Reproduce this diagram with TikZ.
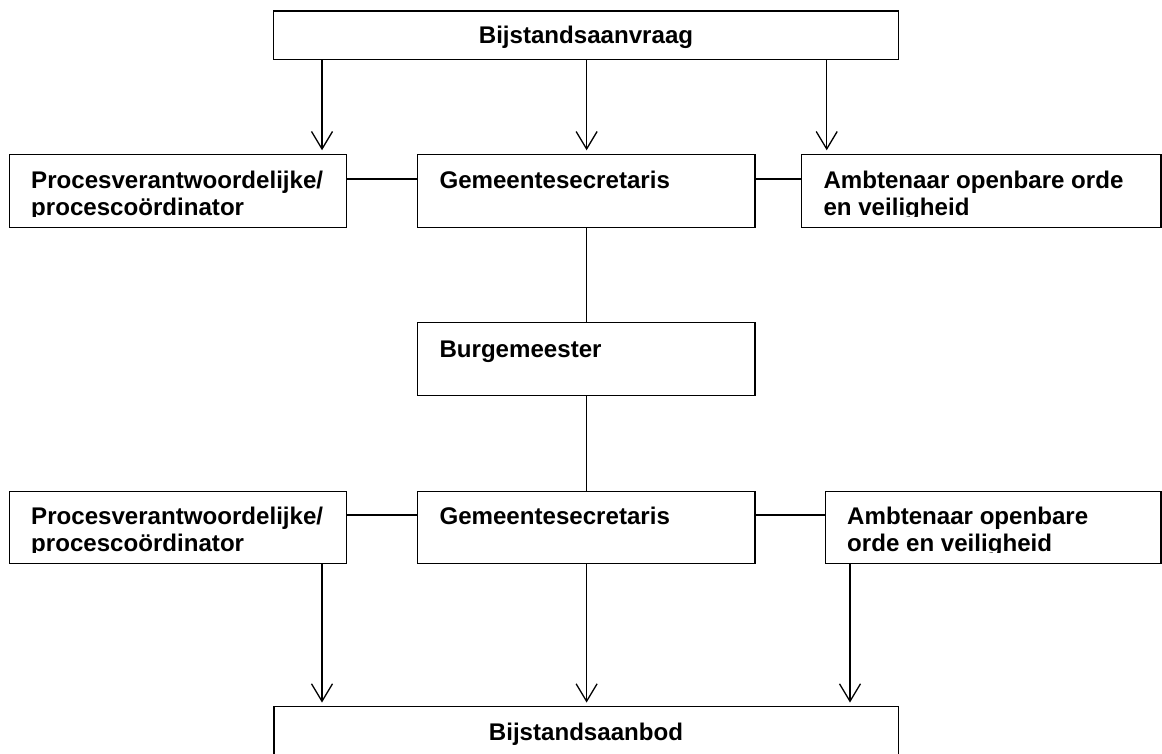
\documentclass[tikz,border=0pt]{standalone}
\usepackage{fontspec}
\setmainfont{Liberation Sans}
\usetikzlibrary{arrows.meta}
\tikzset{
  box/.style={draw=black, line width=1.3pt, inner sep=0pt, minimum height=73pt},
  lbl/.style={anchor=base west, inner sep=0pt, font=\fontsize{24.1}{27}\selectfont\bfseries},
  clbl/.style={lbl, anchor=base},
  conn/.style={draw=black, line width=1.3pt},
  arr/.style={conn, -{Straight Barb[length=17.5pt,width=21pt,line width=1.3pt]}, shorten >=3.5pt}
}
\begin{document}
\begin{tikzpicture}[x=1pt, y=-1pt]
\useasboundingbox (0,0) rectangle (1162,753);
\clip (0,0) rectangle (1162,753);
\fill[white] (0,0) rectangle (1162,753);

% boxes
\node[box, minimum width=625.4pt, minimum height=48.3pt] (top) at (586,35.2) {};
\node[box, minimum width=337.4pt] (L1) at (178,190.9) {};
\node[box, minimum width=337.3pt] (M1) at (586.35,190.9) {};
\node[box, minimum width=359.3pt] (R1) at (981.35,190.9) {};
\node[box, minimum width=337.3pt] (B) at (586.35,359.2) {};
\node[box, minimum width=337.4pt, minimum height=72.2pt] (L2) at (178,527.4) {};
\node[box, minimum width=337.3pt, minimum height=72.2pt] (M2) at (586.35,527.4) {};
\node[box, minimum width=335.3pt, minimum height=72.2pt] (R2) at (993.35,527.4) {};
\node[box, minimum width=624.5pt] (bot) at (586.25,743.2) {};

% texts
\node[clbl] (ttop) at (586,43) {Bijstandsaanvraag};
\node[lbl] (tL1a) at (31,188.3) {Procesverantwoordelijke/};
\begin{scope}
  \clip (10,160) rectangle (346,216.5);
  \node[lbl] (tL1b) at (31,215.5) {procescoördinator};
\end{scope}
\node[lbl] (tM1) at (439.3,188.3) {Gemeentesecretaris};
\node[lbl] (tR1a) at (823.3,188.3) {Ambtenaar openbare orde};
\begin{scope}
  \clip (803,160) rectangle (1160,216.5);
  \node[lbl] (tR1b) at (823.3,215.5) {en veiligheid};
\end{scope}
\node[lbl] (tB) at (439.3,357) {Burgemeester};
\node[lbl] (tL2a) at (31,524) {Procesverantwoordelijke/};
\begin{scope}
  \clip (10,495) rectangle (346,552);
  \node[lbl] (tL2b) at (31,551) {procescoördinator};
\end{scope}
\node[lbl] (tM2) at (439.3,524) {Gemeentesecretaris};
\node[lbl] (tR2a) at (847,524) {Ambtenaar openbare};
\begin{scope}
  \clip (827,495) rectangle (1160,552);
  \node[lbl] (tR2b) at (847,551) {orde en veiligheid};
\end{scope}
\node[clbl] (tbot) at (586,740) {Bijstandsaanbod};

% reference columns / rows
\coordinate (cl) at (322,0);
\coordinate (cm) at (586.6,0);
\coordinate (cr1) at (826.7,0);
\coordinate (cr2) at (850,0);
\coordinate (h1) at (0,179);
\coordinate (h2) at (0,515);

% connectors
\draw[arr] (top.south -| cl) -- (L1.north -| cl);
\draw[arr] (top.south -| cm) -- (M1.north -| cm);
\draw[arr] (top.south -| cr1) -- (R1.north -| cr1);
\draw[conn] (L1.east |- h1) -- (M1.west |- h1);
\draw[conn] (M1.east |- h1) -- (R1.west |- h1);
\draw[conn] (M1.south -| cm) -- (B.north -| cm);
\draw[conn] (B.south -| cm) -- (M2.north -| cm);
\draw[conn] (L2.east |- h2) -- (M2.west |- h2);
\draw[conn] (M2.east |- h2) -- (R2.west |- h2);
\draw[arr] (L2.south -| cl) -- (bot.north -| cl);
\draw[arr] (M2.south -| cm) -- (bot.north -| cm);
\draw[arr] (R2.south -| cr2) -- (bot.north -| cr2);
\end{tikzpicture}
\end{document}
